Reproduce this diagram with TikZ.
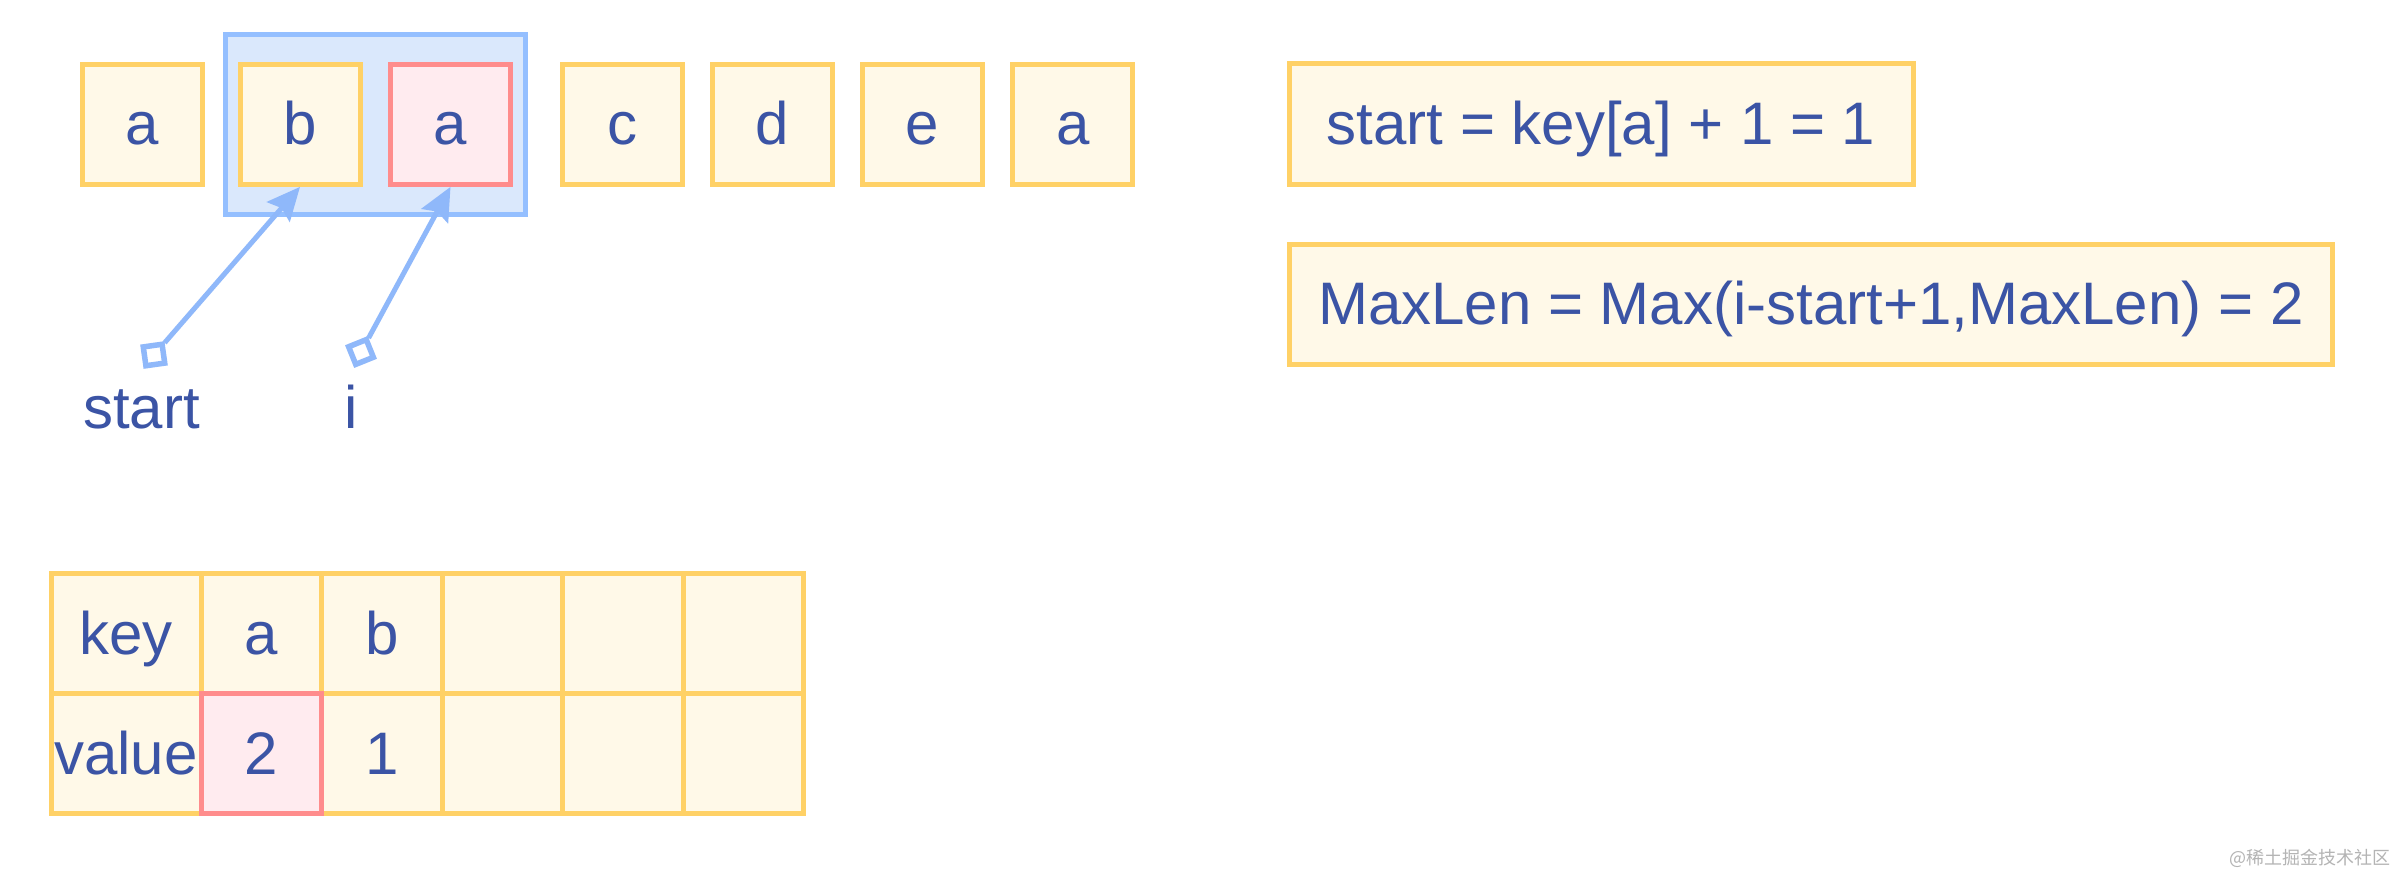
\documentclass[tikz,border=0pt]{standalone}
\usepackage{fontspec}
\setmainfont{Liberation Sans}
\newfontfamily\cjk{Noto Sans CJK SC}
\usetikzlibrary{arrows.meta}
\definecolor{ybord}{HTML}{FFD166}
\definecolor{yfill}{HTML}{FFF9E8}
\definecolor{rbord}{HTML}{FF8C8C}
\definecolor{rfill}{HTML}{FFEBEF}
\definecolor{bbord}{HTML}{94BFFF}
\definecolor{bfill}{HTML}{DAE8FC}
\definecolor{acol}{HTML}{8FB8FA}
\definecolor{tcol}{HTML}{3B54A5}
\definecolor{wmcol}{HTML}{B4B4B4}
\begin{document}
\begin{tikzpicture}[x=1pt,y=-1pt,
  txt/.style={text=tcol, font=\fontsize{60}{70}\selectfont},
  cell/.style={txt, draw=ybord, fill=yfill, line width=5pt, minimum width=120pt,
    minimum height=120pt, inner sep=0pt, text height=45pt, text depth=4pt},
  hot/.style={cell, draw=rbord, fill=rfill},
  tcell/.style={cell, minimum width=120.5pt},
  wide/.style={cell, minimum height=120.5pt},
  win/.style={draw=bbord, fill=bfill, line width=5pt, minimum width=300pt,
    minimum height=180pt, inner sep=0pt},
  tailsq/.style={draw=acol, fill=white, line width=5.5pt, minimum size=19pt, inner sep=0pt},
  conn/.style={draw=acol, line width=5pt, -{Stealth[length=33pt,width=30pt,inset=5pt]}},
  lbl/.style={txt, anchor=base, inner sep=0pt}
]
\useasboundingbox[fill=white] (0,0) rectangle (2397,876);

% window highlight
\node[win] (w) at (375.2,124.5) {};

% top row
\node[cell] (c1) at (142.5,124.4) {a};
\node[cell] (c2) at (300,124.4) {b};
\node[hot]  (c3) at (450.5,124.4) {a};
\node[cell] (c4) at (622.6,124.4) {c};
\node[cell] (c5) at (772.5,124.4) {d};
\node[cell] (c6) at (922.5,124.4) {e};
\node[cell] (c7) at (1072.9,124.4) {a};

% pointers
\node[tailsq, rotate=8]  (ps) at (154,355) {};
\node[tailsq, rotate=22] (pi) at (361,352) {};
\draw[conn] (ps) -- (c2.south);
\draw[conn] (pi) -- (c3.south);
\node[lbl] (ls) at (141.4,428) {start};
\node[lbl] (li) at (351,428) {i};

% formulas
\node[wide, minimum width=624pt] (f1) at (1601,124) {start = key[a] + 1 = 1};
\node[wide, minimum width=1043.5pt] (f2) at (1810.8,304.3) {MaxLen = Max(i-start+1,MaxLen) = 2};

% table
\node[cell, minimum width=150pt] (k0) at (126,633.5) {key};
\node[tcell] (k1) at (261.25,633.5) {a};
\node[tcell] (k2) at (381.75,633.5) {b};
\node[tcell] (k3) at (502.25,633.5) {};
\node[tcell] (k4) at (622.75,633.5) {};
\node[tcell] (k5) at (743.25,633.5) {};
\node[cell, minimum width=150pt] (v0) at (126,753.5) {value};
\node[tcell] (v2) at (381.75,753.5) {1};
\node[tcell] (v3) at (502.25,753.5) {};
\node[tcell] (v4) at (622.75,753.5) {};
\node[tcell] (v5) at (743.25,753.5) {};
\node[hot, minimum width=120.5pt] (v1) at (261.25,753.5) {2};

% watermark
\node[anchor=east, inner sep=0pt, text=wmcol, font=\cjk\fontsize{18}{20}\selectfont] (wm) at (2391,858) {@稀土掘金技术社区};
\end{tikzpicture}
\end{document}
